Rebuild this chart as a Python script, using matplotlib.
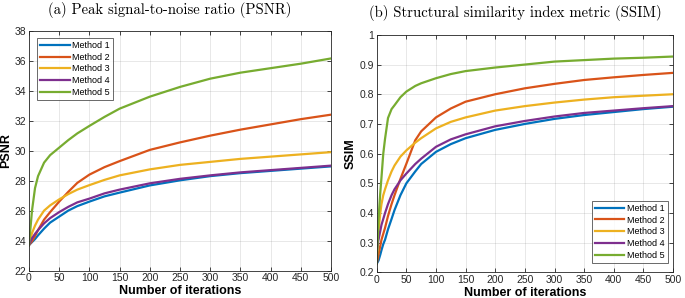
import matplotlib
matplotlib.use('Agg')
import matplotlib.pyplot as plt
import numpy as np

# ── Data ────────────────────────────────────────────────────────────────────
labels = ['Method 1', 'Method 2', 'Method 3', 'Method 4', 'Method 5']
colors = ['#0072BD', '#D95319', '#EDB120', '#7E2F8E', '#77AC30']

# PSNR panel
psnr_iters = [0, 5, 10, 15, 25, 35, 50, 65, 80, 100, 125, 150, 200, 250, 300, 350, 400, 450, 500]
psnr_m1 = [23.7, 23.9, 24.1, 24.35, 24.8, 25.2, 25.6, 26.0, 26.3, 26.6, 26.95, 27.2, 27.68, 28.02, 28.3, 28.5, 28.65, 28.8, 28.95]
psnr_m2 = [23.7, 23.95, 24.3, 24.7, 25.4, 25.9, 26.6, 27.25, 27.85, 28.4, 28.9, 29.3, 30.05, 30.55, 31.0, 31.4, 31.75, 32.1, 32.4]
psnr_m3 = [23.7, 24.5, 25.0, 25.4, 26.0, 26.35, 26.75, 27.1, 27.4, 27.7, 28.05, 28.35, 28.75, 29.05, 29.25, 29.45, 29.6, 29.75, 29.9]
psnr_m4 = [23.7, 24.15, 24.45, 24.7, 25.15, 25.5, 25.9, 26.25, 26.55, 26.8, 27.15, 27.4, 27.82, 28.12, 28.35, 28.55, 28.7, 28.85, 29.0]
psnr_m5 = [23.7, 26.0, 27.5, 28.3, 29.2, 29.7, 30.2, 30.7, 31.15, 31.65, 32.25, 32.8, 33.6, 34.25, 34.8, 35.2, 35.5, 35.8, 36.15]

# SSIM panel
ssim_iters = [0, 3, 6, 8, 11, 14, 19, 25, 30, 40, 50, 65, 75, 100, 125, 150, 200, 250, 300, 350, 400, 450, 500]
ssim_m1 = [0.229, 0.24, 0.26, 0.275, 0.295, 0.31, 0.345, 0.38, 0.41, 0.46, 0.50, 0.54, 0.565, 0.606, 0.632, 0.652,
           0.68, 0.70, 0.717, 0.73, 0.74, 0.75, 0.758]
ssim_m2 = [0.229, 0.26, 0.29, 0.31, 0.33, 0.35, 0.39, 0.43, 0.46, 0.515, 0.566, 0.645, 0.675, 0.722, 0.752, 0.775,
           0.80, 0.82, 0.835, 0.848, 0.857, 0.865, 0.872]
ssim_m3 = [0.25, 0.34, 0.40, 0.43, 0.46, 0.48, 0.51, 0.54, 0.56, 0.59, 0.611, 0.637, 0.652, 0.685, 0.707, 0.722,
           0.745, 0.76, 0.772, 0.782, 0.79, 0.795, 0.80]
ssim_m4 = [0.27, 0.31, 0.34, 0.36, 0.38, 0.40, 0.43, 0.46, 0.48, 0.51, 0.533, 0.565, 0.583, 0.623, 0.648, 0.665,
           0.692, 0.71, 0.725, 0.737, 0.745, 0.753, 0.76]
ssim_m5 = [0.23, 0.38, 0.47, 0.52, 0.60, 0.65, 0.72, 0.75, 0.763, 0.79, 0.809, 0.828, 0.837, 0.854, 0.868, 0.878,
           0.89, 0.90, 0.91, 0.915, 0.92, 0.923, 0.927]

psnr = [psnr_m1, psnr_m2, psnr_m3, psnr_m4, psnr_m5]
ssim = [ssim_m1, ssim_m2, ssim_m3, ssim_m4, ssim_m5]

# ── Figure ──────────────────────────────────────────────────────────────────
plt.rcParams['font.family'] = ['Liberation Sans', 'DejaVu Sans']
fig = plt.figure(figsize=(6.85, 2.98), dpi=100)
fig.patch.set_facecolor('white')

ax1 = fig.add_axes([0.0423, 0.092, 0.441, 0.805])
ax2 = fig.add_axes([0.550, 0.086, 0.4325, 0.797])

LEG = dict(fontsize=6.5, frameon=True, fancybox=False, edgecolor='#262626',
           handlelength=3.3, borderpad=0.35, labelspacing=0.3,
           handletextpad=0.3, borderaxespad=0)


def style(ax):
    ax.grid(True, color='#262626', alpha=0.12, linewidth=0.6)
    ax.tick_params(direction='in', top=True, right=True, labelsize=7.5,
                   length=3, width=0.6, pad=2, colors='#262626')
    for s in ax.spines.values():
        s.set_linewidth(0.6)
        s.set_color('#262626')
    ax.set_xlim(0, 500)
    ax.set_xticks(np.arange(0, 501, 50))
    ax.set_xlabel('Number of iterations', fontsize=9, fontweight='bold', labelpad=1)


for vals, c, lab in zip(psnr, colors, labels):
    ax1.plot(psnr_iters, vals, color=c, lw=1.6, label=lab)
style(ax1)
ax1.set_ylim(22, 38)
ax1.set_yticks(np.arange(22, 39, 2))
ax1.set_ylabel('PSNR', fontsize=9, fontweight='bold', labelpad=2)
leg1 = ax1.legend(loc='upper left', bbox_to_anchor=(0.026, 0.97), **LEG)
leg1.get_frame().set_linewidth(0.6)

for vals, c, lab in zip(ssim, colors, labels):
    ax2.plot(ssim_iters, vals, color=c, lw=1.6, label=lab)
style(ax2)
ax2.set_ylim(0.2, 1.0)
ax2.set_yticks(np.arange(0.2, 1.01, 0.1))
ax2.set_yticklabels(['0.2', '0.3', '0.4', '0.5', '0.6', '0.7', '0.8', '0.9', '1'])
ax2.set_ylabel('SSIM', fontsize=9, fontweight='bold', labelpad=2)
leg2 = ax2.legend(loc='lower right', bbox_to_anchor=(0.983, 0.04), **LEG)
leg2.get_frame().set_linewidth(0.6)

fig.text(0.248, 0.968, '(a) Peak signal-to-noise ratio (PSNR)',
         ha='center', va='center', fontsize=10.6, family='cmr10')
fig.text(0.752, 0.958, '(b) Structural similarity index metric (SSIM)',
         ha='center', va='center', fontsize=10.6, family='cmr10')

plt.savefig('out.png', dpi=100, facecolor='white')
plt.close()
